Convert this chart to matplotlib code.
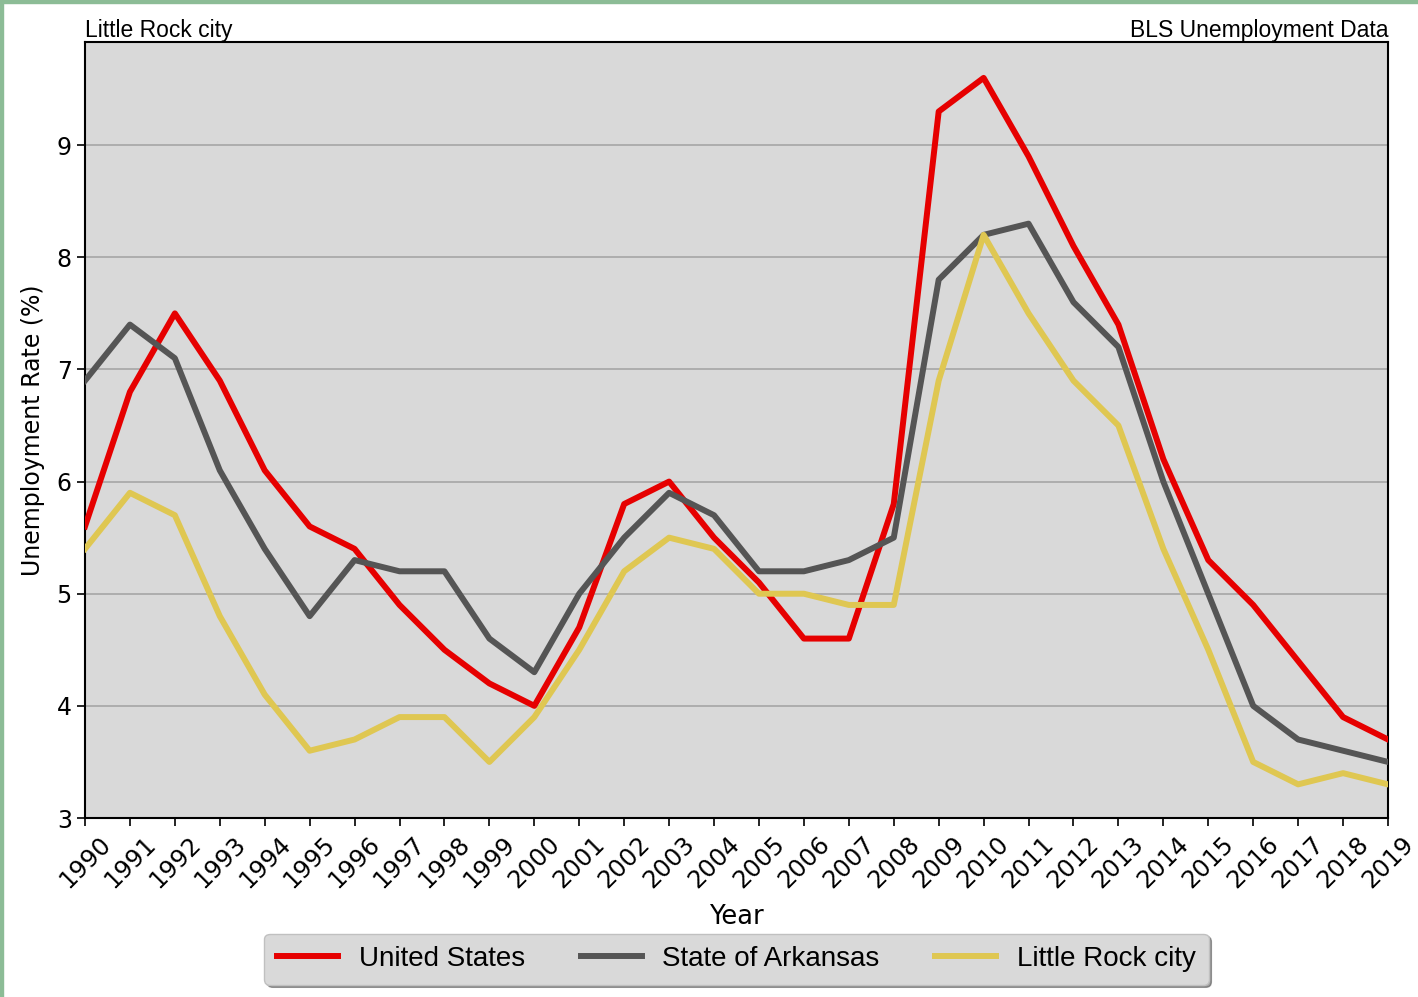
import matplotlib.pyplot as plt
from matplotlib.patches import Rectangle

years = list(range(1990, 2020))
us_rate = [5.6, 6.8, 7.5, 6.9, 6.1, 5.6, 5.4, 4.9, 4.5, 4.2,
           4.0, 4.7, 5.8, 6.0, 5.5, 5.1, 4.6, 4.6, 5.8, 9.3,
           9.6, 8.9, 8.1, 7.4, 6.2, 5.3, 4.9, 4.4, 3.9, 3.7]
ar_rate = [6.9, 7.4, 7.1, 6.1, 5.4, 4.8, 5.3, 5.2, 5.2, 4.6,
           4.3, 5.0, 5.5, 5.9, 5.7, 5.2, 5.2, 5.3, 5.5, 7.8,
           8.2, 8.3, 7.6, 7.2, 6.0, 5.0, 4.0, 3.7, 3.6, 3.5]
lr_rate = [5.4, 5.9, 5.7, 4.8, 4.1, 3.6, 3.7, 3.9, 3.9, 3.5,
           3.9, 4.5, 5.2, 5.5, 5.4, 5.0, 5.0, 4.9, 4.9, 6.9,
           8.2, 7.5, 6.9, 6.5, 5.4, 4.5, 3.5, 3.3, 3.4, 3.3]
series_labels = ["United States", "State of Arkansas", "Little Rock city"]
series_colors = ["#e60000", "#555555", "#dfc752"]

fig = plt.figure(figsize=(14.18, 9.97), dpi=100, facecolor="white")
ax = fig.add_axes([85/1418, 1 - 818/997, (1388-85)/1418, (818-42)/997])
ax.set_facecolor("#d9d9d9")

for vals, lab, col in zip([us_rate, ar_rate, lr_rate], series_labels, series_colors):
    ax.plot(years, vals, color=col, linewidth=4.3, label=lab, zorder=3)

ax.set_xlim(1990, 2019)
ax.set_ylim(3, 9.92)
ax.set_xticks(years)
ax.set_xticklabels([str(y) for y in years], rotation=45, fontsize=17.5)
ax.set_yticks(range(3, 10))
ax.tick_params(axis="y", labelsize=17, length=6, width=1.2)
ax.tick_params(axis="x", length=6, width=1.2, pad=4)
ax.yaxis.grid(True, color="#aaaaaa", linewidth=1.3, zorder=1)
ax.set_axisbelow(True)
for sp in ax.spines.values():
    sp.set_linewidth(1.5)

ax.set_xlabel("Year", fontsize=18.5, labelpad=8)
ax.set_ylabel("Unemployment Rate (%)", fontsize=17, labelpad=8)
ax.set_title("Little Rock city", loc="left", fontsize=16.5,
             family="Liberation Sans", pad=2)
ax.set_title("BLS Unemployment Data", loc="right", fontsize=16.5,
             family="Liberation Sans", pad=2)

leg = ax.legend(loc="upper center", bbox_to_anchor=(0.5, -0.131), ncol=3,
                fancybox=True, shadow=True, facecolor="#d9d9d9",
                edgecolor="#c0c0c0", framealpha=1,
                prop={"family": "Liberation Sans", "size": 20},
                handlelength=2.2, handletextpad=0.75, columnspacing=2.0,
                borderpad=0.45)
for line in leg.get_lines():
    line.set_linewidth(4.3)

# green frame strips on the top and left edges
fig.patches.append(Rectangle((0, 1 - 3/997), 1, 3/997, transform=fig.transFigure,
                             color="#8cbc96", zorder=10))
fig.patches.append(Rectangle((0, 0), 3/1418, 1, transform=fig.transFigure,
                             color="#8cbc96", zorder=10))

fig.savefig("out.png", dpi=100, facecolor="white")
